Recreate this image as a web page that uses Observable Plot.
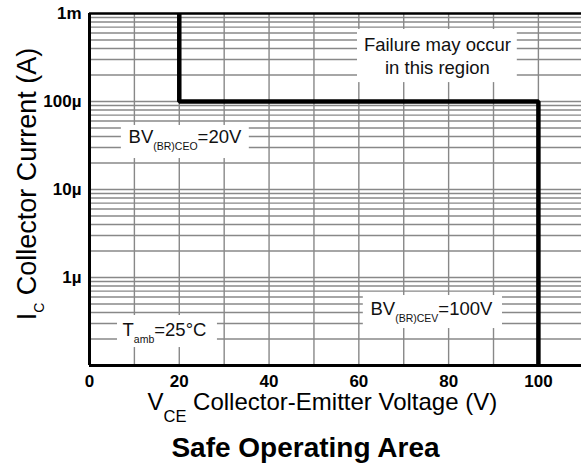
<!DOCTYPE html>
<html>
<head>
<meta charset="utf-8">
<script src="https://cdn.jsdelivr.net/npm/d3@7"></script>
<script src="https://cdn.jsdelivr.net/npm/@observablehq/plot@0.6"></script>
<style>
  html, body { margin: 0; padding: 0; background: #fff; }
  #title { width: 581px; height: 44px; line-height: 46px; text-align: center; padding-left: 30px; box-sizing: border-box;
           font-family: "Liberation Sans", Arial, sans-serif; font-weight: bold; font-size: 28px; color: #000; }
</style>
</head>
<body>
<div id="chart"></div>
<div id="title">Safe Operating Area</div>
<script>
// ---- data ----
const xTicks = [0, 20, 40, 60, 80, 100];
const xGrid = [10, 20, 30, 40, 50, 60, 70, 80, 90, 100];
const yTicks = [1e-3, 1e-4, 1e-5, 1e-6];
const yTickLabels = ["1m", "100µ", "10µ", "1µ"];
const soaVoltage = [20, 20, 100, 100];
const soaCurrent = [1e-3, 1e-4, 1e-4, 1e-7];

// annotation labels ("main|subscript|rest")
const noteLabels = ["BV|(BR)CEO|=20V", "T|amb|=25°C", "BV|(BR)CEV|=100V"];
const noteV = [8.7, 7.35, 62.6];
const noteI = [3.34e-5, 2.19e-7, 3.70e-7];
const failureLines = ["Failure may occur", "in this region"];
const failureV = [77.5, 77.5];
const failureI = [3.70e-4, 2.08e-4];
// white boxes behind the labels
const boxV1 = [59.7, 7.1, 6.24, 61.0];
const boxV2 = [95.3, 35.6, 28.5, 92.0];
const boxI1 = [6.58e-4, 5.34e-5, 3.70e-7, 6.24e-7];
const boxI2 = [1.64e-4, 2.25e-5, 1.60e-7, 2.63e-7];

const subStyle = {
  "(BR)CEO": [10.5, 7], "(BR)CEV": [10.5, 7], "amb": [10.5, 7],
  "CE": [16.5, 12], "C": [14, 8]
};

const domainY = [1e-7, 1e-3];
const yGrid = d3.scaleLog().domain(domainY).ticks().filter(t => t > domainY[0] * 1.0001 && t < domainY[1] * 0.9999);

const soa = soaVoltage.map((v, i) => ({v, i: soaCurrent[i]}));
const notes = noteLabels.map((t, k) => ({t, v: noteV[k], i: noteI[k]}));
const failure = failureLines.map((t, k) => ({t, v: failureV[k], i: failureI[k]}));
const boxes = boxV1.map((v, k) => ({v1: v, v2: boxV2[k], i1: boxI1[k], i2: boxI2[k]}));

const font = "'Liberation Sans', Arial, sans-serif";

const chart = Plot.plot({
  width: 581,
  height: 425,
  marginTop: 13,
  marginBottom: 60,
  marginLeft: 89,
  marginRight: 0,
  style: {fontFamily: font, fontSize: "17px", fontWeight: "bold", color: "#000", background: "#fff"},
  x: {domain: [0, 109.6], ticks: xTicks, tickFormat: d => String(d), tickSize: 0, tickPadding: 9, label: null},
  y: {type: "log", domain: domainY, ticks: yTicks, tickFormat: d => yTickLabels[yTicks.indexOf(d)], tickSize: 0, tickPadding: 8, label: null},
  marks: [
    Plot.ruleY(yGrid, {stroke: "#888", strokeWidth: 1.4}),
    Plot.ruleX(xGrid, {stroke: "#888", strokeWidth: 1.4}),
    Plot.rect(boxes, {x1: "v1", x2: "v2", y1: "i1", y2: "i2", fill: "white"}),
    Plot.text(failure, {x: "v", y: "i", text: "t", textAnchor: "middle", lineAnchor: "bottom", fontSize: 18.5, fontWeight: "normal", fill: "#111"}),
    Plot.text(notes, {x: "v", y: "i", text: "t", textAnchor: "start", lineAnchor: "bottom", fontSize: 18.5, fontWeight: "normal", fill: "#111"}),
    Plot.ruleY([domainY[1]], {stroke: "#000", strokeWidth: 2.5}),
    Plot.ruleY([domainY[0]], {stroke: "#000", strokeWidth: 3}),
    Plot.ruleX([0], {stroke: "#000", strokeWidth: 3}),
    Plot.line(soa, {x: "v", y: "i", stroke: "#000", strokeWidth: 4.5, strokeLinejoin: "miter", strokeLinecap: "butt"}),
    Plot.text(["V|CE| Collector-Emitter Voltage (V)"], {frameAnchor: "bottom-left", text: d => d, textAnchor: "start", lineAnchor: "bottom", dx: 58, dy: 44, fontSize: 24, fontWeight: "normal", fill: "#000"}),
    Plot.text(["I|C| Collector Current (A)"], {frameAnchor: "left", text: d => d, rotate: -90, textAnchor: "middle", lineAnchor: "bottom", dx: -54, dy: -5.5, fontSize: 27, fontWeight: "normal", fill: "#000"})
  ]
});

// turn "main|sub|rest" labels into real subscripts
d3.select(chart).selectAll("text").each(function() {
  const el = d3.select(this);
  const s = this.textContent;
  if (!s.includes("|")) return;
  const [a, b, c] = s.split("|");
  const [size, off] = subStyle[b] || [10, 6];
  el.text(null);
  el.append("tspan").text(a);
  el.append("tspan").attr("font-size", size).attr("dy", off).text(b);
  el.append("tspan").attr("dy", -off).text(c);
});

document.getElementById("chart").appendChild(chart);
</script>
</body>
</html>
